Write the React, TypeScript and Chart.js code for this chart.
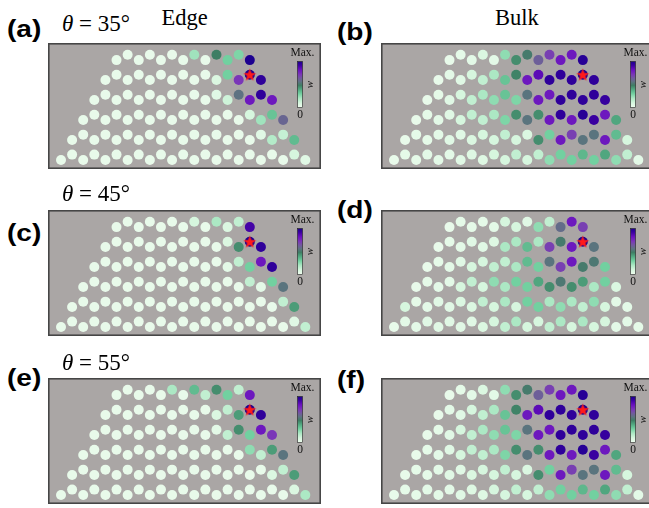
import React, { useEffect, useRef } from "react";
import { Chart, registerables } from "chart.js";

Chart.register(...registerables);

// Lattice: 6 zigzag rows, row r (from top) spans columns 5-r .. 17+r
const rowStart = [5, 4, 3, 2, 1, 0];

// Edge excitation, theta = 35
const edge35: number[][] = [
  [0.03, 0.03, 0.03, 0.03, 0.03, 0.03, 0.03, 0.22, 0.03, 0.48, 0.3, 0.28, 1.0],
  [0.03, 0.03, 0.03, 0.03, 0.03, 0.03, 0.03, 0.03, 0.03, 0.03, 0.08, 0.3, 0.72, 1.0, 0.95],
  [0.03, 0.03, 0.03, 0.03, 0.03, 0.03, 0.03, 0.03, 0.03, 0.03, 0.03, 0.06, 0.12, 0.56, 0.8, 0.95, 0.8],
  [0.03, 0.03, 0.03, 0.03, 0.03, 0.03, 0.03, 0.03, 0.03, 0.03, 0.03, 0.03, 0.03, 0.03, 0.03, 0.1, 0.22, 0.33, 0.6],
  [0.03, 0.03, 0.03, 0.03, 0.03, 0.03, 0.03, 0.03, 0.03, 0.03, 0.03, 0.03, 0.03, 0.03, 0.03, 0.03, 0.03, 0.06, 0.18, 0.14, 0.35],
  [0.03, 0.03, 0.03, 0.03, 0.03, 0.03, 0.03, 0.03, 0.03, 0.03, 0.03, 0.03, 0.03, 0.03, 0.03, 0.03, 0.03, 0.03, 0.03, 0.03, 0.03, 0.1, 0.06],
];

// Bulk excitation, theta = 35
const bulk35: number[][] = [
  [0.03, 0.04, 0.05, 0.08, 0.05, 0.25, 0.45, 0.5, 0.62, 0.7, 0.8, 0.8, 0.97],
  [0.03, 0.05, 0.06, 0.1, 0.15, 0.2, 0.33, 0.47, 0.8, 0.85, 0.95, 0.95, 0.95, 1.0, 0.95],
  [0.03, 0.04, 0.06, 0.1, 0.15, 0.2, 0.25, 0.33, 0.28, 0.55, 0.8, 0.8, 0.95, 0.95, 0.95, 0.95, 0.93],
  [0.03, 0.04, 0.05, 0.06, 0.1, 0.15, 0.15, 0.2, 0.28, 0.45, 0.55, 0.45, 0.8, 0.95, 0.8, 0.97, 0.92, 0.8, 0.4],
  [0.03, 0.04, 0.04, 0.05, 0.06, 0.06, 0.08, 0.1, 0.1, 0.15, 0.1, 0.08, 0.45, 0.3, 0.8, 0.7, 0.55, 0.55, 0.8, 0.35, 0.1],
  [0.03, 0.04, 0.04, 0.05, 0.05, 0.05, 0.06, 0.07, 0.07, 0.1, 0.1, 0.15, 0.1, 0.15, 0.25, 0.3, 0.3, 0.36, 0.3, 0.4, 0.25, 0.15, 0.05],
];

// Edge excitation, theta = 45
const edge45: number[][] = [
  [0.03, 0.03, 0.03, 0.03, 0.03, 0.03, 0.03, 0.1, 0.03, 0.2, 0.08, 0.15, 0.9],
  [0.03, 0.03, 0.03, 0.03, 0.03, 0.03, 0.03, 0.03, 0.03, 0.03, 0.03, 0.08, 0.45, 1.0, 0.95],
  [0.03, 0.03, 0.03, 0.03, 0.03, 0.03, 0.03, 0.03, 0.03, 0.03, 0.03, 0.03, 0.05, 0.15, 0.3, 0.8, 0.95],
  [0.03, 0.03, 0.03, 0.03, 0.03, 0.03, 0.03, 0.03, 0.03, 0.03, 0.03, 0.03, 0.03, 0.03, 0.03, 0.15, 0.05, 0.3, 0.55],
  [0.03, 0.03, 0.03, 0.03, 0.03, 0.03, 0.03, 0.03, 0.03, 0.03, 0.03, 0.03, 0.03, 0.03, 0.03, 0.03, 0.03, 0.03, 0.03, 0.15, 0.42],
  [0.03, 0.03, 0.03, 0.03, 0.03, 0.03, 0.03, 0.03, 0.03, 0.03, 0.03, 0.03, 0.03, 0.03, 0.03, 0.03, 0.03, 0.03, 0.03, 0.03, 0.03, 0.06, 0.15],
];

// Bulk excitation, theta = 45
const bulk45: number[][] = [
  [0.03, 0.04, 0.04, 0.04, 0.05, 0.1, 0.1, 0.06, 0.25, 0.15, 0.58, 0.8, 0.7],
  [0.03, 0.04, 0.05, 0.06, 0.06, 0.07, 0.2, 0.2, 0.35, 0.2, 0.7, 0.5, 0.8, 1.0, 0.55],
  [0.03, 0.04, 0.05, 0.06, 0.1, 0.1, 0.15, 0.15, 0.2, 0.35, 0.3, 0.55, 0.7, 0.8, 0.5, 0.52, 0.3],
  [0.03, 0.04, 0.05, 0.05, 0.1, 0.15, 0.1, 0.25, 0.2, 0.3, 0.3, 0.4, 0.45, 0.52, 0.45, 0.42, 0.2, 0.3, 0.08],
  [0.1, 0.04, 0.05, 0.06, 0.06, 0.08, 0.08, 0.15, 0.1, 0.2, 0.1, 0.3, 0.3, 0.2, 0.25, 0.2, 0.15, 0.25, 0.1, 0.05, 0.05],
  [0.03, 0.05, 0.05, 0.06, 0.06, 0.06, 0.06, 0.06, 0.08, 0.1, 0.15, 0.2, 0.1, 0.1, 0.15, 0.2, 0.1, 0.2, 0.1, 0.1, 0.05, 0.05, 0.04],
];

// Edge excitation, theta = 55
const edge55: number[][] = [
  [0.03, 0.03, 0.03, 0.03, 0.03, 0.2, 0.03, 0.35, 0.15, 0.45, 0.3, 0.15, 0.8],
  [0.03, 0.03, 0.03, 0.03, 0.03, 0.03, 0.03, 0.03, 0.03, 0.03, 0.08, 0.15, 0.42, 1.0, 0.95],
  [0.03, 0.03, 0.03, 0.03, 0.03, 0.03, 0.03, 0.03, 0.03, 0.03, 0.03, 0.05, 0.15, 0.45, 0.3, 0.8, 0.72],
  [0.03, 0.03, 0.03, 0.03, 0.03, 0.03, 0.03, 0.03, 0.03, 0.03, 0.03, 0.03, 0.03, 0.03, 0.03, 0.25, 0.15, 0.42, 0.55],
  [0.03, 0.03, 0.03, 0.03, 0.03, 0.03, 0.03, 0.03, 0.03, 0.03, 0.03, 0.03, 0.03, 0.03, 0.03, 0.03, 0.03, 0.03, 0.08, 0.15, 0.42],
  [0.03, 0.03, 0.03, 0.03, 0.03, 0.03, 0.03, 0.03, 0.03, 0.03, 0.03, 0.03, 0.03, 0.03, 0.03, 0.03, 0.03, 0.03, 0.03, 0.03, 0.03, 0.08, 0.2],
];

// Bulk excitation, theta = 55
const bulk55: number[][] = [
  [0.03, 0.04, 0.05, 0.08, 0.05, 0.25, 0.45, 0.5, 0.62, 0.7, 0.8, 0.8, 0.97],
  [0.03, 0.05, 0.06, 0.1, 0.15, 0.2, 0.33, 0.47, 0.8, 0.85, 0.95, 0.95, 0.95, 1.0, 0.95],
  [0.03, 0.04, 0.06, 0.1, 0.15, 0.2, 0.25, 0.33, 0.28, 0.55, 0.8, 0.8, 0.95, 0.95, 0.95, 0.95, 0.93],
  [0.03, 0.04, 0.05, 0.06, 0.1, 0.15, 0.15, 0.2, 0.28, 0.45, 0.55, 0.45, 0.8, 0.95, 0.8, 0.97, 0.92, 0.8, 0.4],
  [0.03, 0.04, 0.04, 0.05, 0.06, 0.06, 0.08, 0.1, 0.1, 0.15, 0.1, 0.08, 0.45, 0.3, 0.8, 0.7, 0.55, 0.55, 0.8, 0.35, 0.1],
  [0.03, 0.04, 0.04, 0.05, 0.05, 0.05, 0.06, 0.07, 0.07, 0.1, 0.1, 0.15, 0.1, 0.15, 0.25, 0.3, 0.3, 0.36, 0.3, 0.4, 0.25, 0.15, 0.05],
];

const starSite = { row: 1, col: 17 };

const cmapStops: [number, string][] = [
  [0.0, "#effcef"],
  [0.1, "#d6f6de"],
  [0.2, "#ace8c4"],
  [0.3, "#72d0a0"],
  [0.4, "#50a67f"],
  [0.48, "#3e7e64"],
  [0.56, "#5e7282"],
  [0.64, "#7258a0"],
  [0.72, "#7a36b8"],
  [0.82, "#6a10c0"],
  [0.92, "#3a00a0"],
  [1.0, "#1c0090"],
];

const BG = "#aaa6a5";
const W = 273;
const H = 126;
const HIGH = 0.267;

function hexRgb(h: string) {
  return [parseInt(h.slice(1, 3), 16), parseInt(h.slice(3, 5), 16), parseInt(h.slice(5, 7), 16)];
}

function cmap(v: number) {
  const t = Math.max(0, Math.min(1, v));
  for (let i = 0; i < cmapStops.length - 1; i++) {
    const [a, ca] = cmapStops[i];
    const [b, cb] = cmapStops[i + 1];
    if (t <= b) {
      const f = (t - a) / (b - a);
      const A = hexRgb(ca);
      const B = hexRgb(cb);
      const c = A.map((x, k) => Math.round(x + (B[k] - x) * f));
      return `rgb(${c[0]},${c[1]},${c[2]})`;
    }
  }
  return cmapStops[cmapStops.length - 1][1];
}

function siteXY(r: number, k: number) {
  const j = rowStart[r] + k;
  return { x: j, y: 5 - r + ((j + r) % 2 === 0 ? HIGH : 0) };
}

function makeStar() {
  const c = document.createElement("canvas");
  c.width = 15;
  c.height = 15;
  const g = c.getContext("2d")!;
  g.fillStyle = "#ff1a1a";
  g.beginPath();
  for (let i = 0; i < 10; i++) {
    const rad = i % 2 === 0 ? 6.8 : 2.8;
    const a = -Math.PI / 2 + (i * Math.PI) / 5;
    const px = 7.5 + rad * Math.cos(a);
    const py = 8 + rad * Math.sin(a);
    if (i === 0) g.moveTo(px, py);
    else g.lineTo(px, py);
  }
  g.closePath();
  g.fill();
  return c;
}

const decoPlugin = {
  id: "deco",
  beforeDraw(chart: any) {
    const ctx = chart.ctx;
    ctx.save();
    ctx.fillStyle = BG;
    ctx.fillRect(0, 0, chart.width, chart.height);
    ctx.restore();
  },
  afterDraw(chart: any) {
    const ctx = chart.ctx;
    ctx.save();
    // frame
    ctx.strokeStyle = "#464646";
    ctx.lineWidth = 1.6;
    ctx.strokeRect(0.8, 0.8, chart.width - 1.6, chart.height - 1.6);
    // colorbar
    const cx = 249.5, cy = 18.5, cw = 5, ch = 46;
    const grad = ctx.createLinearGradient(0, cy + ch, 0, cy);
    cmapStops.forEach(([s, c]) => grad.addColorStop(s, c));
    ctx.fillStyle = grad;
    ctx.fillRect(cx, cy, cw, ch);
    ctx.strokeStyle = "#222";
    ctx.lineWidth = 0.6;
    ctx.strokeRect(cx, cy, cw, ch);
    ctx.fillStyle = "#111";
    ctx.font = '11.5px "Liberation Serif", "Times New Roman", serif';
    ctx.textAlign = "center";
    ctx.textBaseline = "alphabetic";
    ctx.fillText("Max.", cx + cw / 2 + 2.5, 13);
    ctx.fillText("0", cx + cw / 2, 75);
    ctx.translate(cx + cw + 8, cy + ch / 2);
    ctx.rotate(-Math.PI / 2);
    ctx.font = 'italic 11px "Liberation Serif", "Times New Roman", serif';
    ctx.textBaseline = "middle";
    ctx.fillText("w", 0, 0);
    ctx.restore();
  },
};

function Panel({ rows, left, top }: { rows: number[][]; left: number; top: number }) {
  const ref = useRef<HTMLCanvasElement>(null);
  useEffect(() => {
    if (!ref.current) return;
    const pts: { x: number; y: number }[] = [];
    const cols: string[] = [];
    rows.forEach((row, r) =>
      row.forEach((v, k) => {
        pts.push(siteXY(r, k));
        cols.push(cmap(v));
      })
    );
    const star = siteXY(starSite.row, starSite.col - rowStart[starSite.row]);
    const chart = new Chart(ref.current, {
      type: "scatter",
      data: {
        datasets: [
          {
            data: pts,
            pointRadius: 5,
            pointBorderWidth: 0,
            pointBackgroundColor: cols,
            pointHoverRadius: 5,
            order: 1,
          },
          {
            data: [star],
            pointStyle: makeStar() as any,
            pointRadius: 7,
            order: 0,
          },
        ],
      },
      options: {
        animation: false,
        responsive: false,
        maintainAspectRatio: false,
        devicePixelRatio: 1,
        layout: { padding: 0, autoPadding: false },
        events: [],
        scales: {
          x: { type: "linear", min: -1.17, max: 23.41, display: false },
          y: { type: "linear", min: -0.453, max: 5.856, display: false },
        },
        plugins: { legend: { display: false }, tooltip: { enabled: false } },
      },
      plugins: [decoPlugin],
    });
    return () => chart.destroy();
  }, [rows]);
  return (
    <canvas
      ref={ref}
      width={W}
      height={H}
      style={{ position: "absolute", left, top, width: W, height: H }}
    />
  );
}

function Txt({
  x, baseline, size, children, serif, bold, extra,
}: {
  x: number; baseline: number; size: number; children: React.ReactNode; serif?: boolean; bold?: boolean; extra?: React.CSSProperties;
}) {
  const ratio = serif ? 0.8375 : 0.8465;
  return (
    <div
      style={{
        position: "absolute",
        left: x,
        top: baseline - ratio * size,
        fontSize: size,
        lineHeight: `${size}px`,
        whiteSpace: "nowrap",
        fontFamily: serif ? '"Liberation Serif", "Times New Roman", serif' : '"Liberation Sans", Arial, sans-serif',
        fontWeight: bold ? 700 : 400,
        color: "#000",
        ...extra,
      }}
    >
      {children}
    </div>
  );
}

const letterStyle: React.CSSProperties = { transform: "scaleX(1.22)", transformOrigin: "left center" };

export default function App() {
  return (
    <div style={{ position: "absolute", left: 0, top: 0, width: 649, height: 508, overflow: "hidden", background: "#fff" }}>
      <Panel rows={edge35} left={48} top={43} />
      <Panel rows={bulk35} left={381} top={43} />
      <Panel rows={edge45} left={48} top={210} />
      <Panel rows={bulk45} left={381} top={210} />
      <Panel rows={edge55} left={48} top={378} />
      <Panel rows={bulk55} left={381} top={378} />

      <Txt x={7} baseline={37.5} size={23} bold extra={letterStyle}>(a)</Txt>
      <Txt x={337} baseline={40} size={23} bold extra={letterStyle}>(b)</Txt>
      <Txt x={7} baseline={241} size={23} bold extra={letterStyle}>(c)</Txt>
      <Txt x={337} baseline={218} size={23} bold extra={letterStyle}>(d)</Txt>
      <Txt x={7} baseline={386} size={23} bold extra={letterStyle}>(e)</Txt>
      <Txt x={337} baseline={388} size={23} bold extra={letterStyle}>(f)</Txt>

      <Txt x={62} baseline={31.7} size={23} serif><i>θ</i> = 35°</Txt>
      <Txt x={62} baseline={201} size={23} serif><i>θ</i> = 45°</Txt>
      <Txt x={62} baseline={370} size={23} serif><i>θ</i> = 55°</Txt>
      <Txt x={161.5} baseline={25.7} size={22.5} serif>Edge</Txt>
      <Txt x={495} baseline={25.7} size={22.5} serif>Bulk</Txt>
    </div>
  );
}
